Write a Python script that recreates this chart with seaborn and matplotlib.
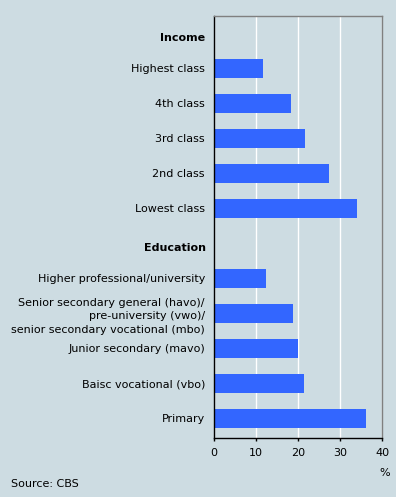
import matplotlib
matplotlib.use("Agg")
import matplotlib.pyplot as plt
import seaborn as sns
import pandas as pd

# rows top to bottom; header rows have no bar
rows = ["Income", "Highest class", "4th class", "3rd class", "2nd class", "Lowest class",
        "Education", "Higher professional/university",
        "Senior secondary general (havo)/\npre-university (vwo)/\nsenior secondary vocational (mbo)",
        "Junior secondary (mavo)", "Baisc vocational (vbo)", "Primary"]
headers = ["Income", "Education"]
labels = ["Highest class", "4th class", "3rd class", "2nd class", "Lowest class",
          "Higher professional/university",
          "Senior secondary general (havo)/\npre-university (vwo)/\nsenior secondary vocational (mbo)",
          "Junior secondary (mavo)", "Baisc vocational (vbo)", "Primary"]
values = [11.7, 18.3, 21.7, 27.4, 34.0, 12.4, 18.8, 19.9, 21.4, 36.2]
xticks = [0, 10, 20, 30, 40]

bg = "#cddce2"
sns.set_style("white")
plt.rcParams["font.family"] = ["DejaVu Sans"]
plt.rcParams["text.color"] = "black"
plt.rcParams["xtick.color"] = "black"
plt.rcParams["ytick.color"] = "black"

df = pd.DataFrame({"label": labels, "value": values})

fig = plt.figure(figsize=(3.96, 4.97), dpi=100, facecolor=bg)
ax = fig.add_axes([0.5404, 0.1193, 0.4250, 0.8485])
ax.set_facecolor(bg)

sns.barplot(data=df, x="value", y="label", order=rows, color="#3366ff",
            saturation=1, width=0.54, edgecolor="none", linewidth=0, ax=ax)

ax.set_xlim(0, 40)
ax.set_ylim(11.55, -0.5)
ax.set_xticks(xticks)
ax.set_xlabel("")
ax.set_ylabel("")
ax.grid(axis="x", color="white", linewidth=1)
ax.set_axisbelow(True)

for side in ["top", "right"]:
    ax.spines[side].set_color("#808080")
    ax.spines[side].set_linewidth(1)
for side in ["left", "bottom"]:
    ax.spines[side].set_color("black")
    ax.spines[side].set_linewidth(1)

ax.set_yticks(range(len(rows)))
ax.set_yticklabels(["" if r in headers else r for r in rows], linespacing=1.45)
ax.tick_params(axis="y", length=0, pad=6.5, labelsize=8)
ax.tick_params(axis="x", length=2.5, width=1, direction="out", pad=5,
               labelsize=8, bottom=True)

# bold group headers, sitting a little below their slot
for r in headers:
    ax.text(-0.05, rows.index(r) + 0.12, r, transform=ax.get_yaxis_transform(),
            ha="right", va="center", fontsize=8, fontweight="bold")

fig.text(0.9722, 0.049, "%", ha="center", va="center", fontsize=8)
fig.text(0.027, 0.026, "Source: CBS", ha="left", va="center", fontsize=8)

plt.savefig("out.png", dpi=100, facecolor=bg)
plt.close()
